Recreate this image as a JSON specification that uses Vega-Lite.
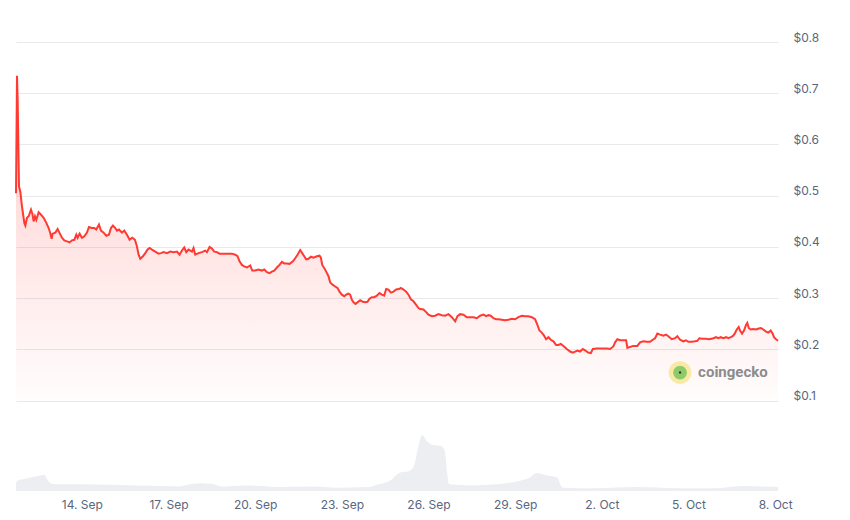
{
  "$schema": "https://vega.github.io/schema/vega-lite/v6.json",
  "autosize": {"type": "none"},
  "width": 762,
  "height": 449,
  "padding": {"left": 16, "top": 42, "right": 72, "bottom": 29},
  "background": "#ffffff",
  "config": {"view": {"stroke": null}, "font": "Inter"},
  "datasets": {
    "price": [
      {"t":"2024-09-11T17:20Z","p":0.505},{"t":"2024-09-11T18:10Z","p":0.734},{"t":"2024-09-11T18:43Z","p":0.687},{"t":"2024-09-11T19:16Z","p":0.603},{"t":"2024-09-11T19:50Z","p":0.518},{"t":"2024-09-11T20:56Z","p":0.508},{"t":"2024-09-11T22:19Z","p":0.479},
      {"t":"2024-09-12T00:15Z","p":0.447},{"t":"2024-09-12T01:05Z","p":0.442},{"t":"2024-09-12T02:28Z","p":0.457},{"t":"2024-09-12T03:51Z","p":0.460},{"t":"2024-09-12T05:47Z","p":0.473},{"t":"2024-09-12T06:54Z","p":0.465},{"t":"2024-09-12T08:00Z","p":0.450},{"t":"2024-09-12T09:07Z","p":0.460},{"t":"2024-09-12T10:13Z","p":0.453},{"t":"2024-09-12T12:09Z","p":0.468},{"t":"2024-09-12T14:05Z","p":0.463},{"t":"2024-09-12T16:18Z","p":0.457},{"t":"2024-09-12T18:31Z","p":0.447},{"t":"2024-09-12T20:28Z","p":0.437},{"t":"2024-09-12T21:50Z","p":0.427},{"t":"2024-09-12T22:57Z","p":0.416},{"t":"2024-09-12T23:47Z","p":0.426},
      {"t":"2024-09-13T02:00Z","p":0.428},{"t":"2024-09-13T03:56Z","p":0.435},{"t":"2024-09-13T05:35Z","p":0.427},{"t":"2024-09-13T07:32Z","p":0.418},{"t":"2024-09-13T09:28Z","p":0.413},{"t":"2024-09-13T11:41Z","p":0.411},{"t":"2024-09-13T13:53Z","p":0.409},{"t":"2024-09-13T15:50Z","p":0.413},{"t":"2024-09-13T17:46Z","p":0.414},{"t":"2024-09-13T19:26Z","p":0.424},{"t":"2024-09-13T20:32Z","p":0.418},{"t":"2024-09-13T22:12Z","p":0.426},
      {"t":"2024-09-14T00:08Z","p":0.418},{"t":"2024-09-14T02:05Z","p":0.421},{"t":"2024-09-14T04:17Z","p":0.428},{"t":"2024-09-14T05:57Z","p":0.439},{"t":"2024-09-14T08:10Z","p":0.437},{"t":"2024-09-14T10:23Z","p":0.437},{"t":"2024-09-14T12:02Z","p":0.434},{"t":"2024-09-14T14:15Z","p":0.444},{"t":"2024-09-14T15:55Z","p":0.432},{"t":"2024-09-14T18:08Z","p":0.428},{"t":"2024-09-14T20:21Z","p":0.422},{"t":"2024-09-14T22:34Z","p":0.424},
      {"t":"2024-09-15T00:13Z","p":0.437},{"t":"2024-09-15T01:53Z","p":0.442},{"t":"2024-09-15T03:49Z","p":0.437},{"t":"2024-09-15T05:12Z","p":0.432},{"t":"2024-09-15T06:52Z","p":0.434},{"t":"2024-09-15T09:21Z","p":0.428},{"t":"2024-09-15T11:17Z","p":0.432},{"t":"2024-09-15T13:30Z","p":0.424},{"t":"2024-09-15T15:43Z","p":0.414},{"t":"2024-09-15T17:56Z","p":0.418},{"t":"2024-09-15T20:09Z","p":0.414},{"t":"2024-09-15T21:49Z","p":0.401},{"t":"2024-09-15T23:11Z","p":0.385},
      {"t":"2024-09-16T00:35Z","p":0.377},{"t":"2024-09-16T02:48Z","p":0.382},{"t":"2024-09-16T04:44Z","p":0.388},{"t":"2024-09-16T06:40Z","p":0.395},{"t":"2024-09-16T08:20Z","p":0.398},{"t":"2024-09-16T10:17Z","p":0.395},{"t":"2024-09-16T13:02Z","p":0.391},{"t":"2024-09-16T15:47Z","p":0.387},{"t":"2024-09-16T17:46Z","p":0.388},{"t":"2024-09-16T19:56Z","p":0.390},{"t":"2024-09-16T22:45Z","p":0.388},
      {"t":"2024-09-17T01:29Z","p":0.391},{"t":"2024-09-17T04:14Z","p":0.390},{"t":"2024-09-17T07:03Z","p":0.391},{"t":"2024-09-17T09:13Z","p":0.385},{"t":"2024-09-17T11:12Z","p":0.393},{"t":"2024-09-17T13:07Z","p":0.399},{"t":"2024-09-17T14:47Z","p":0.390},{"t":"2024-09-17T16:41Z","p":0.395},{"t":"2024-09-17T19:31Z","p":0.391},{"t":"2024-09-17T20:50Z","p":0.398},{"t":"2024-09-17T22:15Z","p":0.385},
      {"t":"2024-09-18T00:59Z","p":0.388},{"t":"2024-09-18T03:49Z","p":0.390},{"t":"2024-09-18T06:33Z","p":0.393},{"t":"2024-09-18T07:58Z","p":0.390},{"t":"2024-09-18T10:08Z","p":0.400},{"t":"2024-09-18T12:07Z","p":0.397},{"t":"2024-09-18T14:02Z","p":0.391},{"t":"2024-09-18T16:16Z","p":0.390},{"t":"2024-09-18T18:26Z","p":0.387},{"t":"2024-09-18T21:45Z","p":0.387},
      {"t":"2024-09-19T01:04Z","p":0.387},{"t":"2024-09-19T04:44Z","p":0.387},{"t":"2024-09-19T07:28Z","p":0.385},{"t":"2024-09-19T09:23Z","p":0.382},{"t":"2024-09-19T11:02Z","p":0.372},{"t":"2024-09-19T13:02Z","p":0.365},{"t":"2024-09-19T14:56Z","p":0.362},{"t":"2024-09-19T17:11Z","p":0.360},{"t":"2024-09-19T19:55Z","p":0.364},{"t":"2024-09-19T21:35Z","p":0.354},
      {"t":"2024-09-20T00:04Z","p":0.354},{"t":"2024-09-20T02:49Z","p":0.356},{"t":"2024-09-20T05:38Z","p":0.354},{"t":"2024-09-20T07:33Z","p":0.356},{"t":"2024-09-20T09:47Z","p":0.351},{"t":"2024-09-20T11:57Z","p":0.349},{"t":"2024-09-20T13:56Z","p":0.352},{"t":"2024-09-20T15:51Z","p":0.354},{"t":"2024-09-20T18:05Z","p":0.360},{"t":"2024-09-20T20:15Z","p":0.365},{"t":"2024-09-20T22:15Z","p":0.371},
      {"t":"2024-09-21T00:10Z","p":0.368},{"t":"2024-09-21T02:24Z","p":0.368},{"t":"2024-09-21T04:34Z","p":0.367},{"t":"2024-09-21T07:23Z","p":0.372},{"t":"2024-09-21T09:17Z","p":0.378},{"t":"2024-09-21T11:12Z","p":0.385},{"t":"2024-09-21T13:26Z","p":0.394},{"t":"2024-09-21T15:06Z","p":0.388},{"t":"2024-09-21T16:46Z","p":0.382},{"t":"2024-09-21T18:25Z","p":0.376},{"t":"2024-09-21T20:20Z","p":0.377},{"t":"2024-09-21T22:20Z","p":0.381},
      {"t":"2024-09-22T00:29Z","p":0.379},{"t":"2024-09-22T03:19Z","p":0.382},{"t":"2024-09-22T05:28Z","p":0.383},{"t":"2024-09-22T06:38Z","p":0.379},{"t":"2024-09-22T07:43Z","p":0.365},{"t":"2024-09-22T09:22Z","p":0.359},{"t":"2024-09-22T11:02Z","p":0.352},{"t":"2024-09-22T12:56Z","p":0.343},{"t":"2024-09-22T14:21Z","p":0.331},{"t":"2024-09-22T16:35Z","p":0.326},{"t":"2024-09-22T18:30Z","p":0.323},{"t":"2024-09-22T20:25Z","p":0.320},{"t":"2024-09-22T22:04Z","p":0.313},
      {"t":"2024-09-23T00:04Z","p":0.307},{"t":"2024-09-23T01:59Z","p":0.304},{"t":"2024-09-23T03:38Z","p":0.307},{"t":"2024-09-23T05:33Z","p":0.309},{"t":"2024-09-23T06:58Z","p":0.307},{"t":"2024-09-23T08:22Z","p":0.297},{"t":"2024-09-23T09:42Z","p":0.292},{"t":"2024-09-23T11:22Z","p":0.289},{"t":"2024-09-23T13:01Z","p":0.292},{"t":"2024-09-23T15:16Z","p":0.296},{"t":"2024-09-23T17:31Z","p":0.293},{"t":"2024-09-23T19:25Z","p":0.292},{"t":"2024-09-23T21:20Z","p":0.293},{"t":"2024-09-23T22:59Z","p":0.299},
      {"t":"2024-09-24T00:59Z","p":0.302},{"t":"2024-09-24T02:53Z","p":0.302},{"t":"2024-09-24T05:08Z","p":0.305},{"t":"2024-09-24T07:17Z","p":0.310},{"t":"2024-09-24T09:17Z","p":0.307},{"t":"2024-09-24T11:11Z","p":0.305},{"t":"2024-09-24T12:51Z","p":0.318},{"t":"2024-09-24T14:46Z","p":0.317},{"t":"2024-09-24T16:46Z","p":0.311},{"t":"2024-09-24T18:55Z","p":0.313},{"t":"2024-09-24T21:10Z","p":0.317},{"t":"2024-09-24T23:24Z","p":0.318},
      {"t":"2024-09-25T01:04Z","p":0.320},{"t":"2024-09-25T03:13Z","p":0.317},{"t":"2024-09-25T05:28Z","p":0.313},{"t":"2024-09-25T07:22Z","p":0.307},{"t":"2024-09-25T09:22Z","p":0.298},{"t":"2024-09-25T11:32Z","p":0.294},{"t":"2024-09-25T13:46Z","p":0.287},{"t":"2024-09-25T15:41Z","p":0.281},{"t":"2024-09-25T17:05Z","p":0.279},{"t":"2024-09-25T19:50Z","p":0.278},{"t":"2024-09-25T22:04Z","p":0.273},{"t":"2024-09-25T23:59Z","p":0.268},
      {"t":"2024-09-26T02:48Z","p":0.265},{"t":"2024-09-26T05:32Z","p":0.266},{"t":"2024-09-26T08:17Z","p":0.269},{"t":"2024-09-26T11:07Z","p":0.267},{"t":"2024-09-26T13:51Z","p":0.266},{"t":"2024-09-26T16:35Z","p":0.269},{"t":"2024-09-26T19:25Z","p":0.263},{"t":"2024-09-26T22:10Z","p":0.255},
      {"t":"2024-09-27T00:04Z","p":0.265},{"t":"2024-09-27T02:19Z","p":0.269},{"t":"2024-09-27T05:03Z","p":0.268},{"t":"2024-09-27T07:52Z","p":0.263},{"t":"2024-09-27T10:37Z","p":0.263},{"t":"2024-09-27T13:21Z","p":0.263},{"t":"2024-09-27T16:10Z","p":0.261},{"t":"2024-09-27T18:55Z","p":0.266},{"t":"2024-09-27T21:39Z","p":0.268},{"t":"2024-09-27T23:54Z","p":0.265},
      {"t":"2024-09-28T01:49Z","p":0.267},{"t":"2024-09-28T03:48Z","p":0.266},{"t":"2024-09-28T05:58Z","p":0.261},{"t":"2024-09-28T08:12Z","p":0.259},{"t":"2024-09-28T10:07Z","p":0.259},{"t":"2024-09-28T12:56Z","p":0.258},{"t":"2024-09-28T15:41Z","p":0.257},{"t":"2024-09-28T18:25Z","p":0.258},{"t":"2024-09-28T21:14Z","p":0.260},{"t":"2024-09-28T23:59Z","p":0.259},
      {"t":"2024-09-29T02:43Z","p":0.263},{"t":"2024-09-29T05:32Z","p":0.266},{"t":"2024-09-29T08:17Z","p":0.265},{"t":"2024-09-29T11:01Z","p":0.265},{"t":"2024-09-29T13:51Z","p":0.263},{"t":"2024-09-29T16:35Z","p":0.259},{"t":"2024-09-29T18:30Z","p":0.248},{"t":"2024-09-29T20:10Z","p":0.237},{"t":"2024-09-29T22:09Z","p":0.233},
      {"t":"2024-09-30T00:04Z","p":0.227},{"t":"2024-09-30T01:43Z","p":0.220},{"t":"2024-09-30T03:38Z","p":0.224},{"t":"2024-09-30T05:37Z","p":0.219},{"t":"2024-09-30T07:47Z","p":0.216},{"t":"2024-09-30T10:01Z","p":0.209},{"t":"2024-09-30T11:56Z","p":0.209},{"t":"2024-09-30T13:55Z","p":0.211},{"t":"2024-09-30T16:06Z","p":0.207},{"t":"2024-09-30T18:55Z","p":0.201},{"t":"2024-09-30T21:40Z","p":0.196},{"t":"2024-09-30T23:54Z","p":0.194},
      {"t":"2024-10-01T01:49Z","p":0.196},{"t":"2024-10-01T03:43Z","p":0.198},{"t":"2024-10-01T05:58Z","p":0.196},{"t":"2024-10-01T08:13Z","p":0.201},{"t":"2024-10-01T10:22Z","p":0.198},{"t":"2024-10-01T12:37Z","p":0.194},{"t":"2024-10-01T14:51Z","p":0.193},{"t":"2024-10-01T16:31Z","p":0.201},{"t":"2024-10-01T19:50Z","p":0.202},{"t":"2024-10-01T23:59Z","p":0.202},
      {"t":"2024-10-02T04:08Z","p":0.202},{"t":"2024-10-02T06:52Z","p":0.201},{"t":"2024-10-02T09:37Z","p":0.206},{"t":"2024-10-02T11:02Z","p":0.214},{"t":"2024-10-02T12:56Z","p":0.220},{"t":"2024-10-02T15:11Z","p":0.218},{"t":"2024-10-02T17:55Z","p":0.218},{"t":"2024-10-02T20:10Z","p":0.218},{"t":"2024-10-02T21:14Z","p":0.203},{"t":"2024-10-02T23:29Z","p":0.205},
      {"t":"2024-10-03T02:13Z","p":0.207},{"t":"2024-10-03T05:32Z","p":0.207},{"t":"2024-10-03T07:47Z","p":0.214},{"t":"2024-10-03T10:31Z","p":0.216},{"t":"2024-10-03T13:20Z","p":0.215},{"t":"2024-10-03T16:05Z","p":0.215},{"t":"2024-10-03T18:20Z","p":0.219},{"t":"2024-10-03T20:14Z","p":0.222},{"t":"2024-10-03T22:09Z","p":0.231},
      {"t":"2024-10-04T00:23Z","p":0.229},{"t":"2024-10-04T03:08Z","p":0.227},{"t":"2024-10-04T05:22Z","p":0.229},{"t":"2024-10-04T07:17Z","p":0.226},{"t":"2024-10-04T10:07Z","p":0.220},{"t":"2024-10-04T12:51Z","p":0.222},{"t":"2024-10-04T14:46Z","p":0.226},{"t":"2024-10-04T17:00Z","p":0.219},{"t":"2024-10-04T19:44Z","p":0.216},{"t":"2024-10-04T21:59Z","p":0.218},{"t":"2024-10-04T23:53Z","p":0.215},
      {"t":"2024-10-05T02:43Z","p":0.215},{"t":"2024-10-05T05:28Z","p":0.216},{"t":"2024-10-05T07:22Z","p":0.217},{"t":"2024-10-05T09:02Z","p":0.222},{"t":"2024-10-05T11:51Z","p":0.221},{"t":"2024-10-05T14:35Z","p":0.221},{"t":"2024-10-05T17:20Z","p":0.220},{"t":"2024-10-05T20:39Z","p":0.222},{"t":"2024-10-05T22:53Z","p":0.224},
      {"t":"2024-10-06T00:48Z","p":0.222},{"t":"2024-10-06T02:47Z","p":0.224},{"t":"2024-10-06T04:57Z","p":0.222},{"t":"2024-10-06T07:11Z","p":0.224},{"t":"2024-10-06T09:06Z","p":0.222},{"t":"2024-10-06T11:06Z","p":0.224},{"t":"2024-10-06T12:46Z","p":0.226},{"t":"2024-10-06T14:25Z","p":0.231},{"t":"2024-10-06T16:05Z","p":0.239},{"t":"2024-10-06T17:44Z","p":0.244},{"t":"2024-10-06T18:49Z","p":0.237},{"t":"2024-10-06T20:29Z","p":0.231},{"t":"2024-10-06T22:08Z","p":0.237},{"t":"2024-10-06T23:48Z","p":0.248},
      {"t":"2024-10-07T00:53Z","p":0.252},{"t":"2024-10-07T02:02Z","p":0.242},{"t":"2024-10-07T03:42Z","p":0.239},{"t":"2024-10-07T05:52Z","p":0.240},{"t":"2024-10-07T08:06Z","p":0.239},{"t":"2024-10-07T10:21Z","p":0.241},{"t":"2024-10-07T12:16Z","p":0.242},{"t":"2024-10-07T14:10Z","p":0.239},{"t":"2024-10-07T16:25Z","p":0.235},{"t":"2024-10-07T18:19Z","p":0.233},{"t":"2024-10-07T20:19Z","p":0.237},{"t":"2024-10-07T21:58Z","p":0.231},{"t":"2024-10-07T23:03Z","p":0.224},
      {"t":"2024-10-08T00:43Z","p":0.220},{"t":"2024-10-08T02:22Z","p":0.217}
    ],
    "volume": [
      {"t":"2024-09-11T17:20Z","v":0.15},{"t":"2024-09-11T18:14Z","v":0.18},{"t":"2024-09-12T00:58Z","v":0.22},{"t":"2024-09-12T07:40Z","v":0.25},{"t":"2024-09-12T14:24Z","v":0.28},{"t":"2024-09-12T16:34Z","v":0.29},{"t":"2024-09-12T20:10Z","v":0.18},{"t":"2024-09-12T23:17Z","v":0.13},
      {"t":"2024-09-13T10:34Z","v":0.12},{"t":"2024-09-14T00:00Z","v":0.12},{"t":"2024-09-14T22:20Z","v":0.11},{"t":"2024-09-15T20:50Z","v":0.10},{"t":"2024-09-16T19:12Z","v":0.09},{"t":"2024-09-17T08:38Z","v":0.08},{"t":"2024-09-17T17:46Z","v":0.12},{"t":"2024-09-18T02:40Z","v":0.14},{"t":"2024-09-18T11:46Z","v":0.13},{"t":"2024-09-18T20:38Z","v":0.08},
      {"t":"2024-09-19T14:34Z","v":0.10},{"t":"2024-09-20T04:05Z","v":0.09},{"t":"2024-09-20T22:00Z","v":0.07},{"t":"2024-09-22T00:58Z","v":0.08},{"t":"2024-09-22T18:58Z","v":0.06},{"t":"2024-09-23T21:50Z","v":0.07},{"t":"2024-09-24T06:43Z","v":0.12},{"t":"2024-09-24T15:36Z","v":0.18},
      {"t":"2024-09-25T00:43Z","v":0.33},{"t":"2024-09-25T07:26Z","v":0.35},{"t":"2024-09-25T12:00Z","v":0.45},{"t":"2024-09-25T15:07Z","v":0.75},{"t":"2024-09-25T18:43Z","v":1.0},{"t":"2024-09-25T23:02Z","v":0.88},{"t":"2024-09-26T03:36Z","v":0.82},{"t":"2024-09-26T10:19Z","v":0.80},{"t":"2024-09-26T13:26Z","v":0.72},{"t":"2024-09-26T15:22Z","v":0.35},{"t":"2024-09-26T17:02Z","v":0.12},
      {"t":"2024-09-27T11:02Z","v":0.10},{"t":"2024-09-28T09:22Z","v":0.12},{"t":"2024-09-29T03:22Z","v":0.18},{"t":"2024-09-29T12:14Z","v":0.24},{"t":"2024-09-29T17:46Z","v":0.32},{"t":"2024-09-30T01:41Z","v":0.28},{"t":"2024-09-30T10:48Z","v":0.24},{"t":"2024-09-30T15:22Z","v":0.06},
      {"t":"2024-10-01T18:14Z","v":0.05},{"t":"2024-10-03T06:00Z","v":0.07},{"t":"2024-10-04T13:26Z","v":0.05},{"t":"2024-10-05T20:53Z","v":0.05},{"t":"2024-10-06T23:46Z","v":0.09},{"t":"2024-10-07T13:12Z","v":0.08},{"t":"2024-10-08T02:22Z","v":0.07}
    ]
  },
  "resolve": {"scale": {"y": "independent"}},
  "layer": [
    {
      "data": {"name": "volume"},
      "mark": {"type": "area", "color": "#eceef2", "interpolate": "monotone"},
      "encoding": {
        "x": {"field": "t", "type": "temporal", "scale": {"type": "utc", "domain": [{"year":2024,"month":9,"date":11,"hours":17,"minutes":20,"utc":true},{"year":2024,"month":10,"date":8,"hours":2,"minutes":22,"utc":true}], "nice": false},
          "axis": {"values": [{"year":2024,"month":9,"date":14,"utc":true},{"year":2024,"month":9,"date":17,"utc":true},{"year":2024,"month":9,"date":20,"utc":true},{"year":2024,"month":9,"date":23,"utc":true},{"year":2024,"month":9,"date":26,"utc":true},{"year":2024,"month":9,"date":29,"utc":true},{"year":2024,"month":10,"date":2,"utc":true},{"year":2024,"month":10,"date":5,"utc":true},{"year":2024,"month":10,"date":8,"utc":true}],
            "format": "%-d. %b", "title": null, "grid": false, "domain": false, "ticks": false, "labelPadding": 8, "labelFontSize": 12, "labelColor": "#58667e", "labelFont": "Inter"}},
        "y": {"field": "v", "type": "quantitative", "scale": {"domain": [0, 8], "nice": false}, "axis": null}
      }
    },
    {
      "data": {"name": "price"},
      "mark": {"type": "area", "color": {"x1": 0, "y1": 0, "x2": 0, "y2": 1, "gradient": "linear", "stops": [{"offset": 0, "color": "rgba(255,58,51,0.26)"}, {"offset": 1, "color": "rgba(255,58,51,0.01)"}]}},
      "encoding": {
        "x": {"field": "t", "type": "temporal"},
        "y": {"field": "p", "type": "quantitative", "scale": {"domain": [-0.0761, 0.8], "nice": false, "zero": false},
          "axis": {"orient": "right", "values": [0.1,0.2,0.3,0.4,0.5,0.6,0.7,0.8], "format": "$.1f", "title": null, "grid": true, "domain": false, "ticks": false, "gridColor": "#e8e9ec", "gridWidth": 1, "labelPadding": 15, "labelOffset": -5, "labelFontSize": 12, "labelColor": "#58667e", "labelFont": "Inter"}},
        "y2": {"datum": 0.1}
      }
    },
    {
      "data": {"name": "price"},
      "mark": {"type": "line", "color": "#ff3a33", "strokeWidth": 2},
      "encoding": {
        "x": {"field": "t", "type": "temporal"},
        "y": {"field": "p", "type": "quantitative", "scale": {"domain": [-0.0761, 0.8], "nice": false, "zero": false}, "axis": null}
      }
    },
    {
      "data": {"values": [{}]},
      "mark": {"type": "point", "filled": true, "shape": "circle", "size": 520, "color": "#f8eaa6", "opacity": 1},
      "encoding": {
        "x": {"datum": {"year":2024,"month":10,"date":4,"hours":17,"utc":true}, "type": "temporal"},
        "y": {"datum": 0.155, "type": "quantitative", "scale": {"domain": [-0.0761, 0.8], "nice": false, "zero": false}, "axis": null}
      }
    },
    {
      "data": {"values": [{}]},
      "mark": {"type": "point", "filled": true, "shape": "circle", "size": 190, "color": "#8dcb6a", "opacity": 1, "dx": 1, "dy": 3},
      "encoding": {
        "x": {"datum": {"year":2024,"month":10,"date":4,"hours":17,"utc":true}, "type": "temporal"},
        "y": {"datum": 0.155, "type": "quantitative", "scale": {"domain": [-0.0761, 0.8], "nice": false, "zero": false}, "axis": null}
      }
    },
    {
      "data": {"values": [{}]},
      "mark": {"type": "point", "filled": true, "shape": "circle", "size": 6, "color": "#3a3a3a", "opacity": 1, "dx": -1, "dy": -1},
      "encoding": {
        "x": {"datum": {"year":2024,"month":10,"date":4,"hours":17,"utc":true}, "type": "temporal"},
        "y": {"datum": 0.155, "type": "quantitative", "scale": {"domain": [-0.0761, 0.8], "nice": false, "zero": false}, "axis": null}
      }
    },
    {
      "data": {"values": [{}]},
      "mark": {"type": "text", "text": "coingecko", "align": "left", "baseline": "middle", "font": "Roboto", "fontWeight": "bold", "fontSize": 15, "color": "#8c8c8c"},
      "encoding": {
        "x": {"datum": {"year":2024,"month":10,"date":5,"hours":8,"utc":true}, "type": "temporal"},
        "y": {"datum": 0.157, "type": "quantitative", "scale": {"domain": [-0.0761, 0.8], "nice": false, "zero": false}, "axis": null}
      }
    }
  ]
}
